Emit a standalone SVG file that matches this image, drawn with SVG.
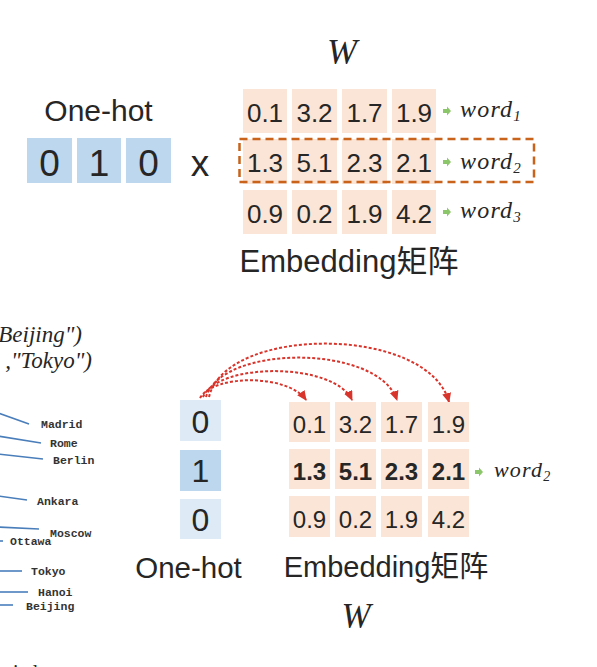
<svg xmlns="http://www.w3.org/2000/svg" width="597" height="667" viewBox="0 0 597 667">
<defs>
<style>
.sans{font-family:"Liberation Sans",Arial,sans-serif;fill:#262626}
.mathi{font-family:"Liberation Serif","Times New Roman",serif;font-style:italic;fill:#262626}
.word{letter-spacing:1.2px}
.mono{font-family:"Liberation Mono","Courier New",monospace;font-weight:bold;font-size:11.5px;fill:#333}
.cell{fill:#fbe5d6}
.blue{fill:#bdd7ee}
.lblue{fill:#deebf7}
.num{font-size:26px;text-anchor:middle}
.numb{font-size:24px;text-anchor:middle}
.garrow{fill:#8cc66a}
.city{stroke:#4a7ebb;stroke-width:1.6;fill:none}
.arc{stroke:#d9342b;stroke-width:2;stroke-dasharray:3 2;fill:none;marker-end:url(#rh)}
</style>
<marker id="rh" markerUnits="userSpaceOnUse" markerWidth="11" markerHeight="10" refX="9" refY="4.5" orient="auto">
<path d="M0,0 L10,4.5 L0,9 z" fill="#d9342b"/>
</marker>
<path id="ga" d="M-4,-2 L0,-2 L0,-4.5 L4,0 L0,4.5 L0,2 L-4,2 z"/>
</defs>

<!-- top section -->
<g id="top-W"><text class="mathi" x="342" y="64" font-size="36" text-anchor="middle">W</text></g>
<g id="top-onehot-label"><text class="sans" x="98.5" y="121" font-size="30" text-anchor="middle">One-hot</text></g>
<g id="top-onehot">
<rect class="blue" x="27" y="138" width="45" height="45"/>
<rect class="blue" x="77" y="138" width="44" height="45"/>
<rect class="blue" x="126" y="138" width="45" height="45"/>
<text class="sans" x="49.5" y="176" font-size="37" text-anchor="middle">0</text>
<text class="sans" x="99" y="176" font-size="37" text-anchor="middle">1</text>
<text class="sans" x="148.5" y="176" font-size="37" text-anchor="middle">0</text>
</g>
<g id="times"><text class="sans" x="200" y="176" font-size="37" text-anchor="middle">x</text></g>
<g id="top-matrix">
<rect class="cell" x="243" y="89" width="44" height="44"/>
<rect class="cell" x="292" y="89" width="45" height="44"/>
<rect class="cell" x="342" y="89" width="45" height="44"/>
<rect class="cell" x="392" y="89" width="44" height="44"/>
<rect class="cell" x="243" y="139" width="44" height="45"/>
<rect class="cell" x="292" y="139" width="45" height="45"/>
<rect class="cell" x="342" y="139" width="45" height="45"/>
<rect class="cell" x="392" y="139" width="44" height="45"/>
<rect class="cell" x="243" y="190" width="44" height="44"/>
<rect class="cell" x="292" y="190" width="45" height="44"/>
<rect class="cell" x="342" y="190" width="45" height="44"/>
<rect class="cell" x="392" y="190" width="44" height="44"/>
<text class="sans num" x="265" y="122">0.1</text>
<text class="sans num" x="314.5" y="122">3.2</text>
<text class="sans num" x="364.5" y="122">1.7</text>
<text class="sans num" x="414" y="122">1.9</text>
<text class="sans num" x="265" y="172">1.3</text>
<text class="sans num" x="314.5" y="172">5.1</text>
<text class="sans num" x="364.5" y="172">2.3</text>
<text class="sans num" x="414" y="172">2.1</text>
<text class="sans num" x="265" y="223">0.9</text>
<text class="sans num" x="314.5" y="223">0.2</text>
<text class="sans num" x="364.5" y="223">1.9</text>
<text class="sans num" x="414" y="223">4.2</text>
</g>
<g id="top-highlight"><rect x="239.5" y="139" width="294.5" height="43" fill="none" stroke="#c9621b" stroke-width="2.5" stroke-dasharray="8 5"/></g>
<g id="top-words">
<use href="#ga" class="garrow" x="447" y="111"/>
<use href="#ga" class="garrow" x="447" y="162"/>
<use href="#ga" class="garrow" x="447" y="212"/>
<text class="mathi word" x="460" y="117" font-size="24">word<tspan font-size="15" dy="4">1</tspan></text>
<text class="mathi word" x="460" y="169" font-size="24">word<tspan font-size="15" dy="4">2</tspan></text>
<text class="mathi word" x="460" y="218" font-size="24">word<tspan font-size="15" dy="4">3</tspan></text>
</g>
<g id="top-embedding-label"><text class="sans" x="349" y="272" font-size="31" text-anchor="middle" style="font-family:'Liberation Sans','Noto Sans CJK SC',sans-serif">Embedding矩阵</text></g>

<!-- left cut-off analogy figure -->
<g id="analogy-text">
<text class="mathi" x="82" y="342" font-size="23" text-anchor="end">Beijing")</text>
<text class="mathi" x="92" y="368" font-size="23" text-anchor="end">,"Tokyo")</text>
</g>
<g id="city-lines">
<path class="city" d="M-2,413 L29,424"/>
<path class="city" d="M-2,436 L41,443"/>
<path class="city" d="M-2,454 L43,459"/>
<path class="city" d="M-2,496 L27,500"/>
<path class="city" d="M-2,527 L39,529"/>
<path class="city" d="M-2,541 L3,541"/>
<path class="city" d="M-2,571 L22,571"/>
<path class="city" d="M-2,592 L28,592"/>
<path class="city" d="M-2,605 L13,605"/>
</g>
<g id="city-labels">
<text class="mono" x="41" y="428">Madrid</text>
<text class="mono" x="50" y="447">Rome</text>
<text class="mono" x="53" y="464">Berlin</text>
<text class="mono" x="37" y="505">Ankara</text>
<text class="mono" x="50" y="537">Moscow</text>
<text class="mono" x="10" y="545">Ottawa</text>
<text class="mono" x="31" y="575">Tokyo</text>
<text class="mono" x="38" y="596">Hanoi</text>
<text class="mono" x="26" y="610">Beijing</text>
</g>
<g id="cut-text"><text class="mathi" x="-6" y="679" font-size="20" style="font-style:normal">apital</text></g>

<!-- bottom section -->
<g id="connectors">
<path class="arc" d="M200,398 C214,374 288,374 306,400"/>
<path class="arc" d="M203,397 C218,362 334,362 352,400"/>
<path class="arc" d="M206,397 C222,344 378,344 397,400"/>
<path class="arc" d="M209,397 C226,325 428,325 449,402"/>
</g>
<g id="bottom-onehot">
<rect class="lblue" x="180" y="400" width="41" height="41"/>
<rect class="blue" x="180" y="450" width="41" height="41"/>
<rect class="lblue" x="180" y="499" width="41" height="40"/>
<text class="sans" x="200.5" y="433" font-size="32" text-anchor="middle">0</text>
<text class="sans" x="200.5" y="482" font-size="32" text-anchor="middle">1</text>
<text class="sans" x="200.5" y="531" font-size="32" text-anchor="middle">0</text>
</g>
<g id="bottom-matrix">
<rect class="cell" x="289" y="402" width="41" height="40"/>
<rect class="cell" x="335" y="402" width="41" height="40"/>
<rect class="cell" x="381" y="402" width="41" height="40"/>
<rect class="cell" x="428" y="402" width="41" height="40"/>
<rect class="cell" x="289" y="449" width="41" height="40"/>
<rect class="cell" x="335" y="449" width="41" height="40"/>
<rect class="cell" x="381" y="449" width="41" height="40"/>
<rect class="cell" x="428" y="449" width="41" height="40"/>
<rect class="cell" x="289" y="496" width="41" height="41"/>
<rect class="cell" x="335" y="496" width="41" height="41"/>
<rect class="cell" x="381" y="496" width="41" height="41"/>
<rect class="cell" x="428" y="496" width="41" height="41"/>
<text class="sans numb" x="309.5" y="433">0.1</text>
<text class="sans numb" x="355.5" y="433">3.2</text>
<text class="sans numb" x="401.5" y="433">1.7</text>
<text class="sans numb" x="448.5" y="433">1.9</text>
<text class="sans numb" x="309.5" y="480" font-weight="bold">1.3</text>
<text class="sans numb" x="355.5" y="480" font-weight="bold">5.1</text>
<text class="sans numb" x="401.5" y="480" font-weight="bold">2.3</text>
<text class="sans numb" x="448.5" y="480" font-weight="bold">2.1</text>
<text class="sans numb" x="309.5" y="528">0.9</text>
<text class="sans numb" x="355.5" y="528">0.2</text>
<text class="sans numb" x="401.5" y="528">1.9</text>
<text class="sans numb" x="448.5" y="528">4.2</text>
</g>
<g id="bottom-word">
<use href="#ga" class="garrow" x="479" y="472"/>
<text class="mathi word" x="494" y="477" font-size="22">word<tspan font-size="14" dy="4">2</tspan></text>
</g>
<g id="bottom-onehot-label"><text class="sans" x="188.5" y="578" font-size="29.5" text-anchor="middle">One-hot</text></g>
<g id="bottom-embedding-label"><text class="sans" x="386" y="577" font-size="29" text-anchor="middle" style="font-family:'Liberation Sans','Noto Sans CJK SC',sans-serif">Embedding矩阵</text></g>
<g id="bottom-W"><text class="mathi" x="356" y="628" font-size="35" text-anchor="middle">W</text></g>
</svg>
